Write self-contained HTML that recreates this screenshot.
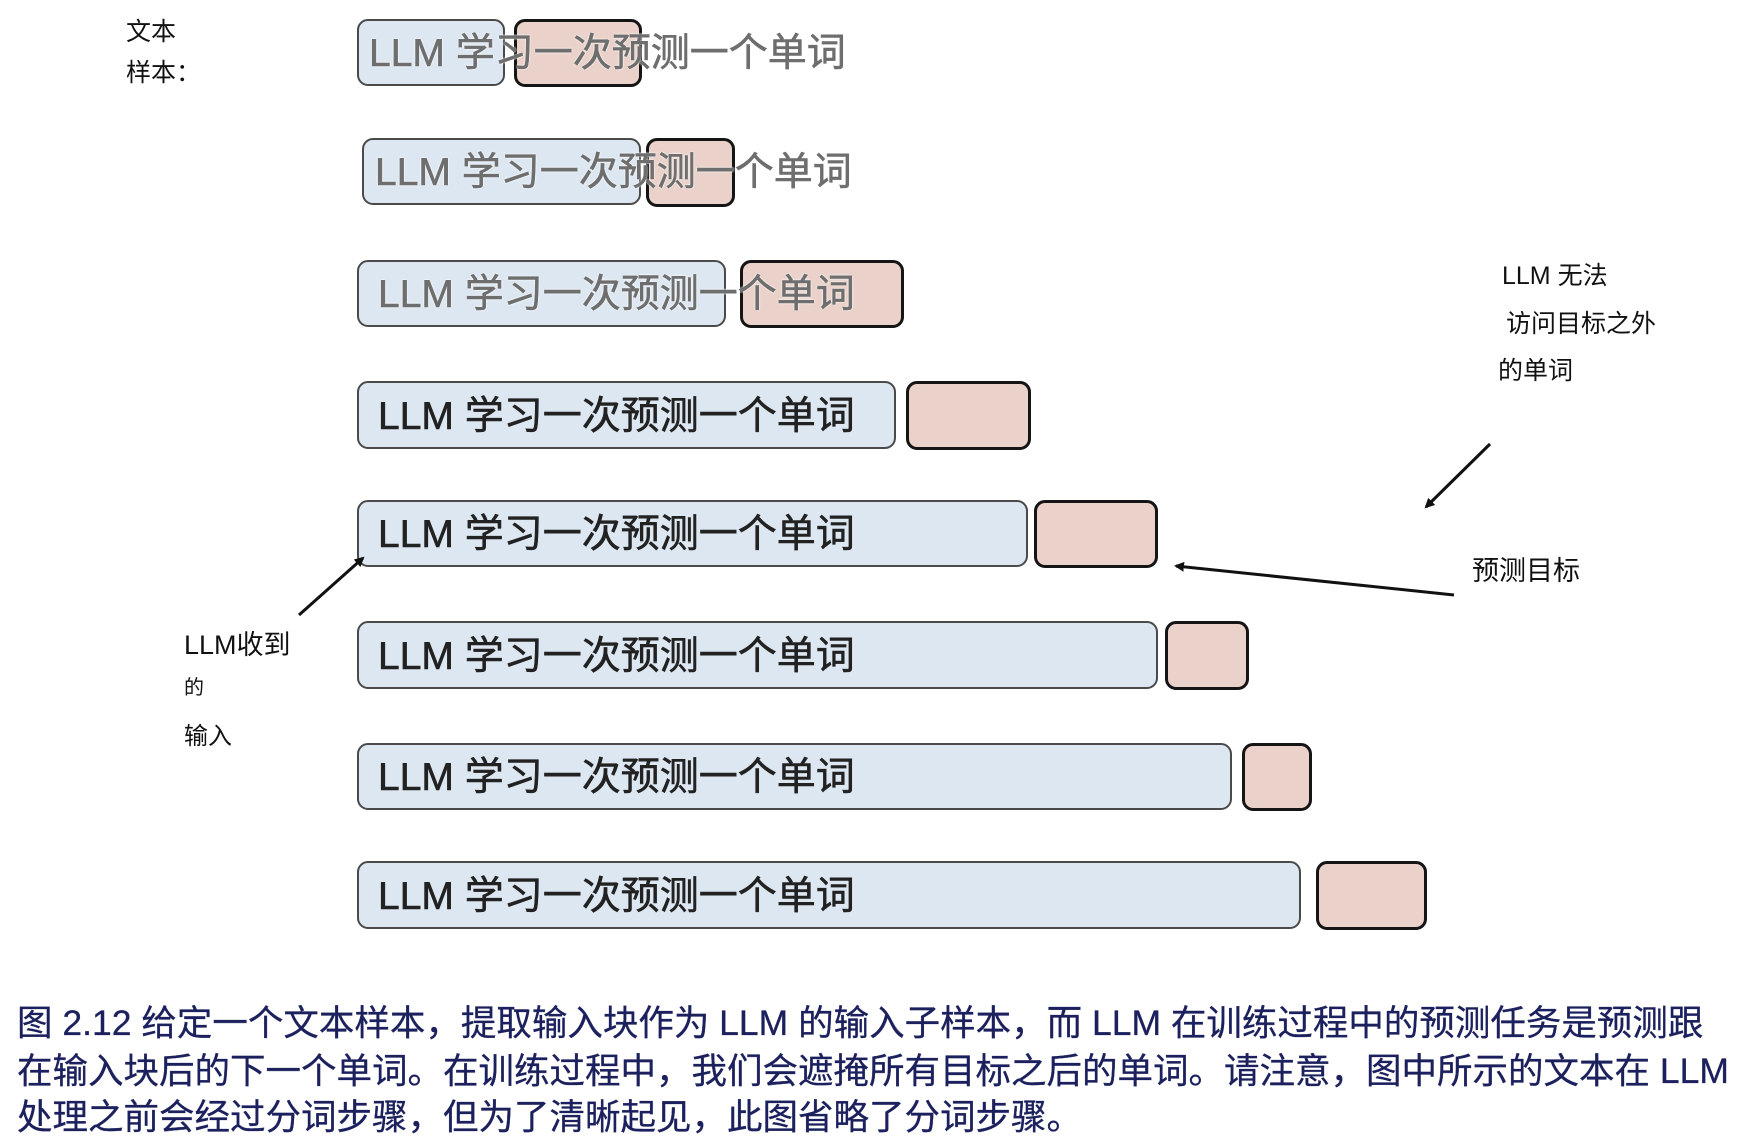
<!DOCTYPE html>
<html><head><meta charset="utf-8">
<style>
body{margin:0;width:1742px;height:1147px;background:#fff;position:relative;overflow:hidden;font-family:"Liberation Sans","Noto Sans CJK SC",sans-serif;}
.b{position:absolute;background:#dde7f1;border:2px solid #4a4a4a;border-radius:11px;box-sizing:border-box;}
.p{position:absolute;background:#ead1c9;border:3px solid #151515;border-radius:11px;box-sizing:border-box;}
.t{position:absolute;font-size:39px;line-height:1;white-space:nowrap;color:#222;-webkit-text-stroke:0.6px #222;}
.g{color:#6e6e6e;-webkit-text-stroke:0.6px #6e6e6e;text-shadow:0 0 2px #fff,0 0 2px #fff;}
.l{position:absolute;white-space:nowrap;color:#111;line-height:1;}
.c{position:absolute;left:17px;font-size:35.5px;color:#1c215e;white-space:nowrap;line-height:1;-webkit-text-stroke:0.3px #1c215e;}
</style></head><body>
<div class="l" style="left:126px;top:20px;font-size:25px">文本</div>
<div class="l" style="left:126px;top:61px;font-size:25px">样本：</div>

<div class="b" style="left:357px;top:19px;width:148px;height:67px"></div>
<div class="p" style="left:514px;top:19px;width:128px;height:68px"></div>
<div class="t g" style="left:369px;top:34px">LLM 学习一次预测一个单词</div>

<div class="b" style="left:362px;top:138px;width:279px;height:67px"></div>
<div class="p" style="left:646px;top:138px;width:89px;height:69px"></div>
<div class="t g" style="left:375px;top:153px">LLM 学习一次预测一个单词</div>

<div class="b" style="left:357px;top:260px;width:369px;height:67px"></div>
<div class="p" style="left:740px;top:260px;width:164px;height:68px"></div>
<div class="t g" style="left:378px;top:275px">LLM 学习一次预测一个单词</div>

<div class="b" style="left:357px;top:381px;width:539px;height:68px"></div>
<div class="p" style="left:906px;top:381px;width:125px;height:69px"></div>
<div class="t" style="left:378px;top:397px">LLM 学习一次预测一个单词</div>

<div class="b" style="left:357px;top:500px;width:671px;height:67px"></div>
<div class="p" style="left:1034px;top:500px;width:124px;height:68px"></div>
<div class="t" style="left:378px;top:515px">LLM 学习一次预测一个单词</div>

<div class="b" style="left:357px;top:621px;width:801px;height:68px"></div>
<div class="p" style="left:1165px;top:621px;width:84px;height:69px"></div>
<div class="t" style="left:378px;top:637px">LLM 学习一次预测一个单词</div>

<div class="b" style="left:357px;top:743px;width:875px;height:67px"></div>
<div class="p" style="left:1242px;top:743px;width:70px;height:68px"></div>
<div class="t" style="left:378px;top:758px">LLM 学习一次预测一个单词</div>

<div class="b" style="left:357px;top:861px;width:944px;height:68px"></div>
<div class="p" style="left:1316px;top:861px;width:111px;height:69px"></div>
<div class="t" style="left:378px;top:877px">LLM 学习一次预测一个单词</div>

<div class="l" style="left:184px;top:632px;font-size:27px">LLM收到</div>
<div class="l" style="left:184px;top:678px;font-size:20px">的</div>
<div class="l" style="left:184px;top:725px;font-size:24px">输入</div>

<div class="l" style="left:1502px;top:264px;font-size:25px">LLM 无法</div>
<div class="l" style="left:1506px;top:312px;font-size:25px">访问目标之外</div>
<div class="l" style="left:1498px;top:359px;font-size:25px">的单词</div>
<div class="l" style="left:1472px;top:558px;font-size:27px">预测目标</div>

<svg width="1742" height="1147" style="position:absolute;left:0;top:0">
<defs><marker id="a" markerWidth="10" markerHeight="10" refX="8" refY="5" orient="auto" markerUnits="userSpaceOnUse"><path d="M0,0 L10,5 L0,10 z" fill="#111"/></marker></defs>
<line x1="299" y1="615" x2="363" y2="558" stroke="#111" stroke-width="3" marker-end="url(#a)"/>
<line x1="1490" y1="444" x2="1426" y2="507" stroke="#111" stroke-width="3" marker-end="url(#a)"/>
<line x1="1454" y1="595" x2="1176" y2="566" stroke="#111" stroke-width="3" marker-end="url(#a)"/>
</svg>

<div class="c" style="top:1006px">图 2.12 给定一个文本样本，提取输入块作为 LLM 的输入子样本，而 LLM 在训练过程中的预测任务是预测跟</div>
<div class="c" style="top:1054px">在输入块后的下一个单词。在训练过程中，我们会遮掩所有目标之后的单词。请注意，图中所示的文本在 LLM</div>
<div class="c" style="top:1100px">处理之前会经过分词步骤，但为了清晰起见，此图省略了分词步骤。</div>
</body></html>
